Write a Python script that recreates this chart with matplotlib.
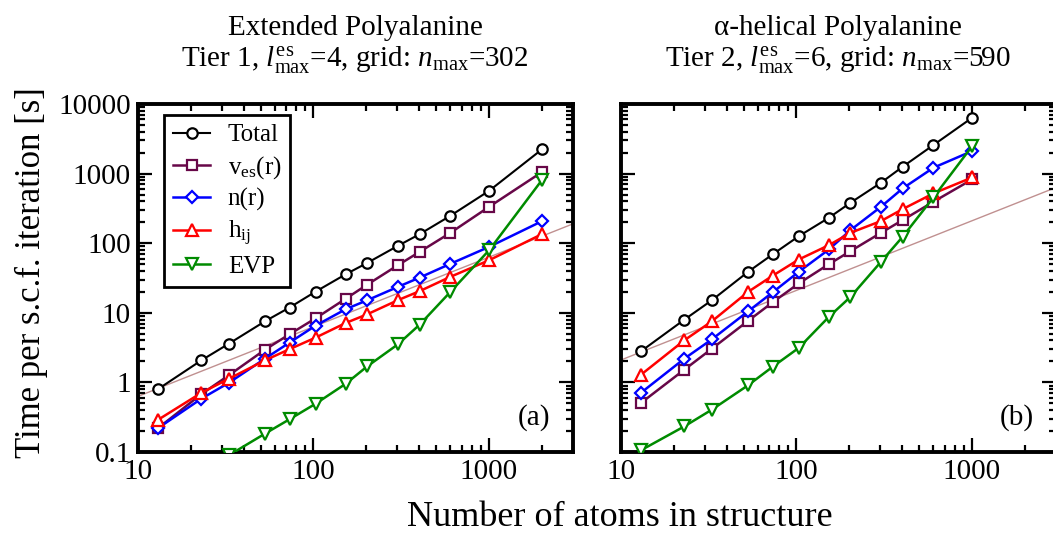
import matplotlib
matplotlib.use("Agg")
import matplotlib.pyplot as plt
from matplotlib.ticker import LogLocator, NullFormatter, FixedLocator, FixedFormatter

plt.rcParams['font.family'] = ['Liberation Serif', 'DejaVu Serif']
plt.rcParams['mathtext.fontset'] = 'custom'
plt.rcParams['mathtext.rm'] = 'Liberation Serif'
plt.rcParams['mathtext.it'] = 'Liberation Serif:italic'

# number of atoms (Ala_n, n = 1 ... 200)
atoms_ext = [13, 23, 33, 53, 73, 103, 153, 203, 303, 403, 603, 1003, 2003]
atoms_hel = [13, 23, 33, 53, 73, 103, 153, 203, 303, 403, 603, 1003]

# (a) extended, tier 1
ext_total = [0.80, 2.08, 3.61, 7.57, 11.9, 20.2, 35.9, 52.3, 91.8, 135, 248, 567, 2228]
ext_ves = [0.22, 0.68, 1.27, 2.96, 4.92, 8.36, 16.0, 25.5, 48.4, 75.2, 141, 334, 1052]
ext_nr = [0.22, 0.585, 0.99, 2.20, 3.73, 6.56, 11.3, 15.2, 23.6, 32.1, 50.6, 88.7, 207]
ext_hij = [0.29, 0.71, 1.13, 2.08, 3.0, 4.41, 7.16, 9.55, 15.2, 20.5, 32.9, 57.0, 135]
ext_evp = [0.02, 0.05, 0.09, 0.184, 0.295, 0.495, 0.96, 1.71, 3.53, 6.77, 20.0, 79.5, 807]

# (b) alpha-helical, tier 2
hel_total = [2.80, 8.0, 15.2, 38.8, 68.9, 126, 232, 381, 739, 1256, 2573, 6357]
hel_ves = [0.507, 1.53, 3.06, 7.66, 14.1, 26.4, 50.0, 76.9, 141, 215, 394, 826]
hel_nr = [0.71, 2.2, 4.17, 10.5, 19.6, 38.8, 81.3, 154, 334, 613, 1214, 2110]
hel_hij = [1.29, 4.04, 7.57, 20.0, 34.0, 58.3, 93.7, 141, 208, 309, 519, 881]
hel_evp = [0.106, 0.234, 0.407, 0.91, 1.67, 3.13, 8.75, 16.9, 54.0, 124, 455, 2488]

# linear-scaling guide lines, t = c * N
guide_x = [10, 3000]
guide_c_ext = 0.063
guide_c_hel = 0.21

labels = ['Total', r'v$_{\rm es}$(r)', 'n(r)', r'h$_{\rm ij}$', 'EVP']
colors = ['black', '#670748', '#0000ff', '#ff0000', '#008b00']
markers = ['o', 's', 'D', '^', 'v']
msizes = [7.5, 6.5, 6, 8.5, 8.5]
widths = [1.5, 1.8, 1.8, 1.8, 1.8]

yticks = [0.1, 1, 10, 100, 1000, 10000]
ytick_labels = ['0.1', '1', '10', '100', '1000', '10000']
xticks = [10, 100, 1000]
xtick_labels = ['10', '100', '1000']

W, H = 1053, 537
fig = plt.figure(figsize=(W / 100, H / 100), dpi=100)


def px_axes(x0, x1, y0, y1):
    return fig.add_axes([x0 / W, 1 - y1 / H, (x1 - x0) / W, (y1 - y0) / H])


def style_axes(ax, show_ylabels):
    ax.set_xscale('log')
    ax.set_yscale('log')
    ax.set_xlim(10, 3000)
    ax.set_ylim(0.1, 10000)
    ax.xaxis.set_major_locator(FixedLocator(xticks))
    ax.xaxis.set_major_formatter(FixedFormatter(xtick_labels))
    ax.yaxis.set_major_locator(FixedLocator(yticks))
    ax.yaxis.set_major_formatter(FixedFormatter(ytick_labels))
    ax.xaxis.set_minor_locator(LogLocator(base=10, subs=range(2, 10)))
    ax.yaxis.set_minor_locator(LogLocator(base=10, subs=range(2, 10)))
    ax.xaxis.set_minor_formatter(NullFormatter())
    ax.yaxis.set_minor_formatter(NullFormatter())
    ax.tick_params(which='both', direction='in', top=True, right=True,
                   labelsize=21, pad=5, width=1.6)
    ax.tick_params(which='major', length=10)
    ax.tick_params(which='minor', length=5)
    if not show_ylabels:
        ax.tick_params(labelleft=False)
    for sp in ax.spines.values():
        sp.set_linewidth(2.8)


def draw_panel(ax, atoms, series, guide_c, tag):
    ax.plot(guide_x, [guide_c * v for v in guide_x], color='#c09090', lw=1.0, zorder=1)
    for vals, lab, col, mk, ms, lw in zip(series, labels, colors, markers, msizes, widths):
        ax.plot(atoms, vals, color=col, lw=lw, marker=mk, ms=ms,
                mfc='white', mec=col, mew=1.6, label=lab, zorder=3)
    ax.text(0.91, 0.10, tag, transform=ax.transAxes, fontsize=21,
            ha='center', va='center')


ax1 = px_axes(138, 572.7, 104, 452)
ax2 = px_axes(621, 1055.7, 104, 452)

draw_panel(ax1, atoms_ext, [ext_total, ext_ves, ext_nr, ext_hij, ext_evp], guide_c_ext, '(a)')
draw_panel(ax2, atoms_hel, [hel_total, hel_ves, hel_nr, hel_hij, hel_evp], guide_c_hel, '(b)')
style_axes(ax1, True)
style_axes(ax2, False)

leg = ax1.legend(loc='upper left', bbox_to_anchor=(0.06, 0.968), borderaxespad=0,
                 fontsize=18, handlelength=1.5, handletextpad=0.7,
                 labelspacing=0.3, fancybox=False, framealpha=1,
                 edgecolor='black', borderpad=0.35)
leg.get_frame().set_linewidth(2.0)

# titles
fig.text(355 / W, 1 - 35 / H, 'Extended Polyalanine', fontsize=21, ha='center', va='baseline')
fig.text(355 / W, 1 - 67 / H, r'Tier 1, $l^{\rm es}_{\rm max}$=4, grid: $n_{\rm max}$=302',
         fontsize=21, ha='center', va='baseline')
fig.text(838 / W, 1 - 35 / H, 'α-helical Polyalanine', fontsize=21, ha='center', va='baseline')
fig.text(838 / W, 1 - 67 / H, r'Tier 2, $l^{\rm es}_{\rm max}$=6, grid: $n_{\rm max}$=590',
         fontsize=21, ha='center', va='baseline')

fig.text(31 / W, 1 - 273 / H, 'Time per s.c.f. iteration [s]', fontsize=25,
         rotation=90, ha='center', va='center')
fig.text(620 / W, 1 - 517 / H, 'Number of atoms in structure', fontsize=26,
         ha='center', va='center')

fig.savefig('out.png', dpi=100)
